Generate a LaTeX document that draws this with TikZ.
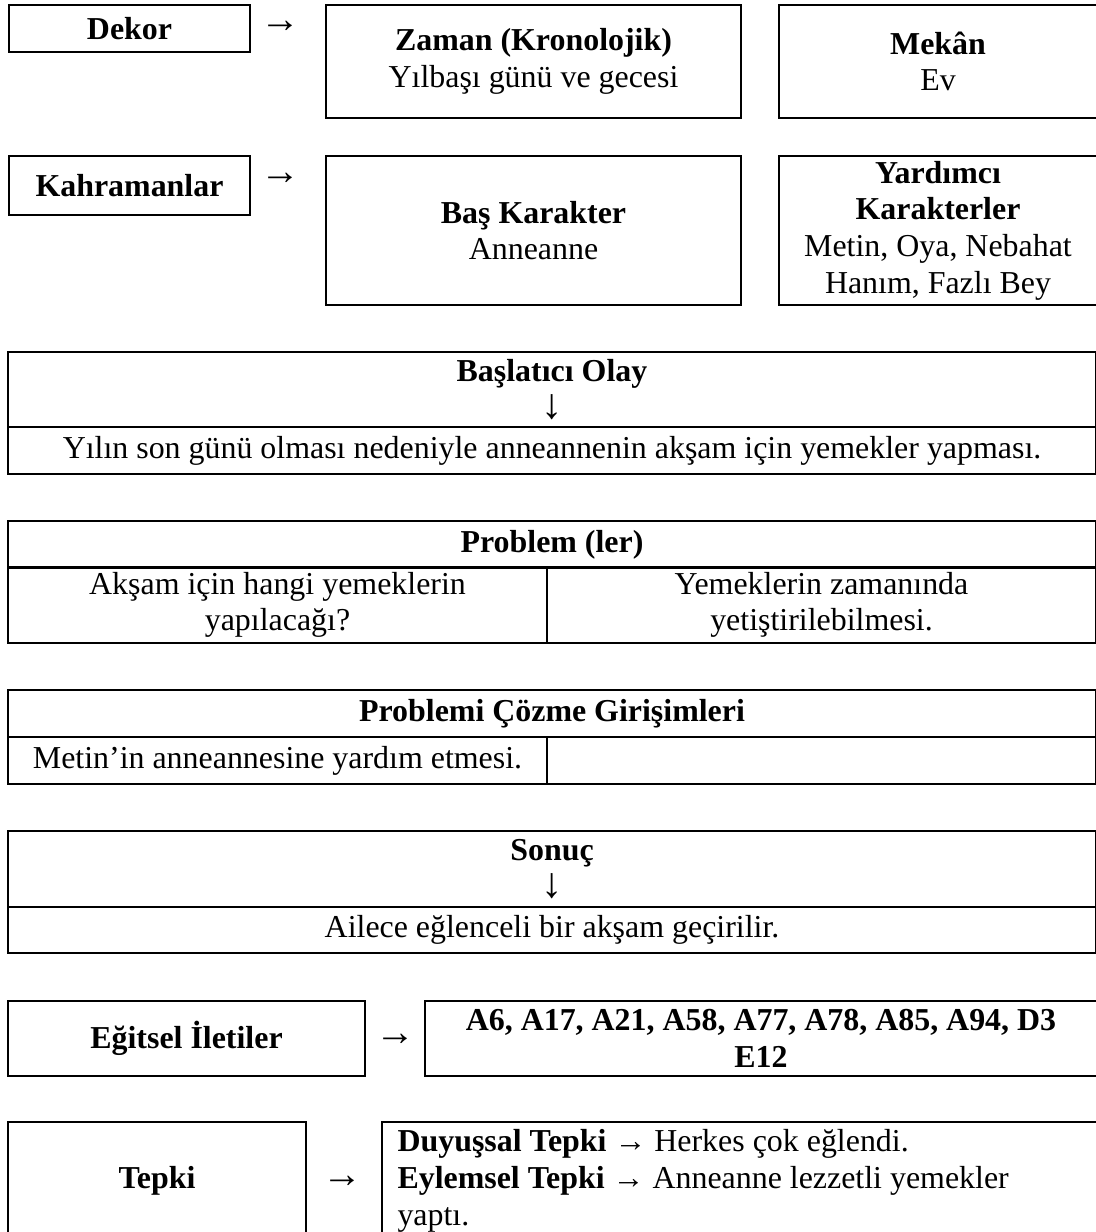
\documentclass[tikz,border=0pt]{standalone}
\usepackage{fontspec}
\setmainfont{Liberation Serif}
\tikzset{kutu/.style={draw,line width=0.8pt,inner sep=2pt,align=center},
  boyut/.style 2 args={minimum width=#1*0.376pt,minimum height=#2*0.376pt},
  ok/.style={inner sep=0pt,font=\fontsize{15}{15}\selectfont}}
\newcommand{\asagi}{{\fontsize{16}{13.8}\selectfont ↓}}

\begin{document}
\begin{tikzpicture}[x=0.376pt,y=-0.376pt,font=\fontsize{12}{13.8}\selectfont]
  \useasboundingbox (0,0) rectangle (1095,1232);
  \node[kutu,boyut={241}{47}] (dekor) at (129.5,28.5) {\textbf{Dekor}};
  \node[ok] (ok1) at (280,27) {→};
  \node[kutu,boyut={415}{113}] (zaman) at (533.5,61.5)
    {\textbf{Zaman (Kronolojik)}\\Yılbaşı günü ve gecesi};
  \node[kutu,boyut={318}{113}] (mekan) at (938,61.5) {\textbf{Mekân}\\Ev};
  \node[kutu,boyut={241}{59}] (kahraman) at (129.5,185.5) {\textbf{Kahramanlar}};
  \node[ok] (ok2) at (280,179) {→};
  \node[kutu,boyut={415}{149}] (baskar) at (533.5,230.5)
    {\textbf{Baş Karakter}\\Anneanne};
  \node[kutu,boyut={318}{149}] (yardimci) at (938,230.5)
    {\textbf{Yardımcı}\\\textbf{Karakterler}\\Metin, Oya, Nebahat\\Hanım, Fazlı Bey};
  \node[kutu,boyut={1088}{75}] (baslatici) at (552,389.5)
    {\textbf{Başlatıcı Olay}\\\asagi};
  \node[kutu,boyut={1088}{47}] (olay) at (552,450.5)
    {Yılın son günü olması nedeniyle anneannenin akşam için yemekler yapması.};
  \node[kutu,boyut={1088}{47}] (problem) at (552,544.5) {\textbf{Problem (ler)}};
  \node[kutu,boyut={539}{74}] (prob1) at (277.5,605)
    {Akşam için hangi yemeklerin\\yapılacağı?};
  \node[kutu,boyut={549}{74}] (prob2) at (821.5,605)
    {Yemeklerin zamanında\\yetiştirilebilmesi.};
  \node[kutu,boyut={1088}{47}] (cozme) at (552,713.5)
    {\textbf{Problemi Çözme Girişimleri}};
  \node[kutu,boyut={539}{47}] (giris1) at (277.5,760.5)
    {Metin’in anneannesine yardım etmesi.};
  \node[kutu,boyut={549}{47}] (giris2) at (821.5,760.5) {};
  \node[kutu,boyut={1088}{76}] (sonuc) at (552,869) {\textbf{Sonuç}\\\asagi};
  \node[kutu,boyut={1088}{46}] (son) at (552,930)
    {Ailece eğlenceli bir akşam geçirilir.};
  \node[kutu,boyut={357}{75}] (egitsel) at (186.5,1038.5) {\textbf{Eğitsel İletiler}};
  \node[ok] (ok3) at (395,1040) {→};
  \node[kutu,boyut={672}{75}] (iletiler) at (761,1038.5)
    {\textbf{A6, A17, A21, A58, A77, A78, A85, A94, D3}\\\textbf{E12}};
  \node[kutu,boyut={298}{118}] (tepki) at (157,1181) {\textbf{Tepki}};
  \node[ok] (ok4) at (342,1182) {→};
  \node[kutu,boyut={715}{118}] (tepkiler) at (739.5,1181) {};
  \node[align=left,inner sep=0pt,anchor=west] (tepkimetin) at (397,1181)
    {\textbf{Duyuşsal Tepki} → Herkes çok eğlendi.\\
     \textbf{Eylemsel Tepki} → Anneanne lezzetli yemekler\\yaptı.};
\end{tikzpicture}
\end{document}
